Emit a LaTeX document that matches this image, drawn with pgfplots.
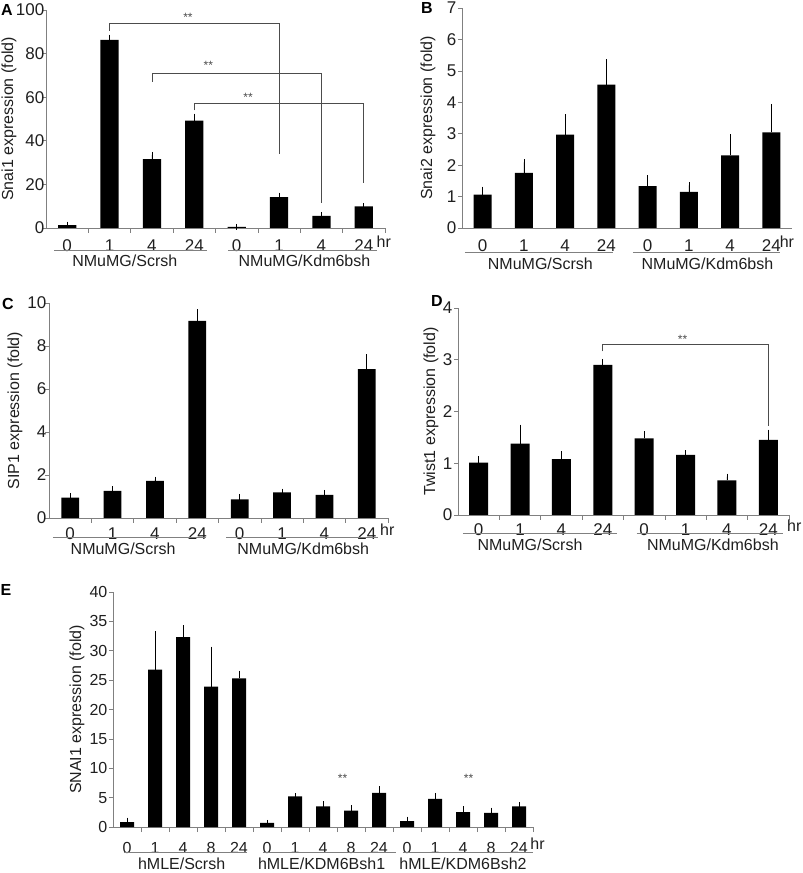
\documentclass[border=0pt]{standalone}
\usepackage{fontspec}
\setmainfont{Liberation Sans}
\usepackage{pgfplots}
\pgfplotsset{compat=1.18}
\usepackage{pgfplotstable}

\definecolor{axisgray}{gray}{0.5}
\definecolor{txt}{gray}{0.12}
\definecolor{brk}{gray}{0.3}

\pgfplotstableread{
x y e
0 1.3 0.2
1 86.3 1.0
2 31.6 1.9
3 49.3 1.8
4 0.5 0.0
5 14.2 0.6
6 5.6 0.4
7 9.9 0.0
}\dataA

\pgfplotstableread{
x y e
0 1.06 0.16
1 1.75 0.34
2 2.97 0.56
3 4.56 0.72
4 1.33 0.26
5 1.15 0.21
6 2.31 0.57
7 3.04 0.81
}\dataB

\pgfplotstableread{
x y e
0 0.95 0.08
1 1.26 0.07
2 1.73 0.05
3 9.17 0.39
4 0.87 0.11
5 1.19 0.04
6 1.08 0.09
7 6.93 0.54
}\dataC

\pgfplotstableread{
x y e
0 1.01 0.07
1 1.38 0.31
2 1.08 0.09
3 2.90 0.06
4 1.48 0.08
5 1.16 0.03
6 0.67 0.07
7 1.45 0.14
}\dataD

\pgfplotstableread{
x y e
0 0.85 0.25
1 26.8 6.0
2 32.3 1.5
3 23.9 6.3
4 25.3 0.8
5 0.7 0.0
6 5.2 0.0
7 3.5 0.4
8 2.8 0.4
9 5.8 0.6
10 1.0 0.25
11 4.8 0.5
12 2.55 0.5
13 2.4 0.4
14 3.5 0.2
}\dataE

\tikzset{
  gline/.style={axisgray, line width=0.8pt},
  glab/.style={anchor=base, text=txt, font=\fontsize{16}{19}\selectfont, inner sep=0pt},
  bracket/.style={brk, line width=0.7pt},
  stars/.style={text=brk, font=\fontsize{12}{12}\selectfont, inner sep=0pt},
}

\pgfplotsset{
  panel/.style={
    scale only axis, anchor=south west, clip=false,
    axis x line*=bottom, axis y line*=left,
    axis line style={axisgray, line width=0.7pt},
    xmin=-0.5, ymin=0,
    tick align=outside,
    major tick length=4pt, minor tick length=5pt,
    major x tick style={draw=none},
    minor x tick style={axisgray, line width=0.6pt},
    y tick style={axisgray, line width=0.6pt},
    tick label style={font=\fontsize{17}{20}\selectfont, text=txt},
    xticklabel style={anchor=base},
    yticklabel style={inner sep=1.5pt},
    /pgf/number format/assume math mode=true,
    every axis y label/.style={font=\fontsize{16}{19}\selectfont, text=txt, rotate=90, anchor=center},
  },
  bars/.style={ybar, bar shift=0pt, fill=black, draw=none,
    error bars/y dir=plus, error bars/y explicit,
    error bars/error bar style={draw=black, line width=0.7pt},
    error bars/error mark options={draw=black, line width=0.7pt, mark size=3pt}},
}

\begin{document}
\begin{tikzpicture}
\useasboundingbox (0,0) rectangle (803pt,873pt);
\node[font=\bfseries\fontsize{16}{19}\selectfont] at (7pt,863pt) {A};
\node[font=\bfseries\fontsize{16}{19}\selectfont] at (427pt,865pt) {B};
\node[font=\bfseries\fontsize{16}{19}\selectfont] at (8pt,569pt) {C};
\node[font=\bfseries\fontsize{16}{19}\selectfont] at (437pt,572pt) {D};
\node[font=\bfseries\fontsize{16}{19}\selectfont] at (6pt,283pt) {E};

% ---------- A ----------
\begin{axis}[panel, at={(46pt,645pt)}, width=339pt, height=218pt,
  xmax=7.5, ymax=100, ytick={0,20,...,100},
  xtick={0,...,7}, xticklabels={0,1,4,24,0,1,4,24},
  minor xtick={0.5,1.5,...,7.5},
  xticklabel style={yshift=-20pt},
  yticklabel style={xshift=4pt},
  ylabel={Snai1 expression (fold)},
  ylabel style={at={([xshift=-37pt]axis description cs:0,0.5)}}]
\addplot[bar width=0.43, bars] table[x=x,y=y,y error=e]{\dataA};
\draw[bracket] (axis cs:1,90.5) -- (axis cs:1,93.9) -- (axis cs:5,93.9) -- (axis cs:5,34);
\draw[bracket] (axis cs:2,67) -- (axis cs:2,71) -- (axis cs:6,71) -- (axis cs:6,11.5);
\draw[bracket] (axis cs:3,54) -- (axis cs:3,57) -- (axis cs:7,57) -- (axis cs:7,20.6);
\node[stars] at (axis cs:2.85,96.5) {**};
\node[stars] at (axis cs:3.33,74.5) {**};
\node[stars] at (axis cs:4.27,60) {**};
\draw[gline] ([yshift=-22pt]axis cs:-0.3,0) -- ([yshift=-22pt]axis cs:3.3,0);
\draw[gline] ([yshift=-22pt]axis cs:3.8,0) -- ([yshift=-22pt]axis cs:7.3,0);
\node[glab] at ([yshift=-39pt]axis cs:1.36,0) {NMuMG/Scrsh};
\node[glab] at ([yshift=-39pt]axis cs:5.6,0) {NMuMG/Kdm6bsh};
\node[glab, anchor=base west] at ([yshift=-20pt]axis cs:7.3,0) {hr};
\end{axis}

% ---------- B ----------
\begin{axis}[panel, at={(462pt,645pt)}, width=330pt, height=220pt,
  xmax=7.5, ymax=7, ytick={0,1,...,7},
  xtick={0,...,7}, xticklabels={0,1,4,24,0,1,4,24},
  xticklabel style={yshift=-20pt},
  ylabel={Snai2 expression (fold)},
  ylabel style={at={([xshift=-34pt]axis description cs:0,0.5)}}]
\addplot[bar width=0.44, bars] table[x=x,y=y,y error=e]{\dataB};
\draw[gline] ([yshift=-24pt]axis cs:-0.43,0) -- ([yshift=-24pt]axis cs:3.16,0);
\draw[gline] ([yshift=-24pt]axis cs:3.64,0) -- ([yshift=-24pt]axis cs:7.2,0);
\node[glab] at ([yshift=-42pt]axis cs:1.4,0) {NMuMG/Scrsh};
\node[glab] at ([yshift=-42pt]axis cs:5.45,0) {NMuMG/Kdm6bsh};
\node[glab, anchor=base west] at ([yshift=-20pt]axis cs:7.2,0) {hr};
\end{axis}

% ---------- C ----------
\begin{axis}[panel, at={(49pt,355pt)}, width=339pt, height=215pt,
  xmax=7.5, ymax=10, ytick={0,2,...,10},
  xtick={0,...,7}, xticklabels={0,1,4,24,0,1,4,24},
  minor xtick={0.5,1.5,...,7.5},
  xticklabel style={yshift=-17.5pt},
  yticklabel style={xshift=3pt},
  ylabel={SIP1 expression (fold)},
  ylabel style={at={([xshift=-34pt]axis description cs:0,0.5)}}]
\addplot[bar width=0.42, bars] table[x=x,y=y,y error=e]{\dataC};
\draw[gline] ([yshift=-19.5pt]axis cs:-0.41,0) -- ([yshift=-19.5pt]axis cs:3.2,0);
\draw[gline] ([yshift=-19.5pt]axis cs:3.68,0) -- ([yshift=-19.5pt]axis cs:7.26,0);
\node[glab] at ([yshift=-37pt]axis cs:1.25,0) {NMuMG/Scrsh};
\node[glab] at ([yshift=-37pt]axis cs:5.5,0) {NMuMG/Kdm6bsh};
\node[glab, anchor=base west] at ([yshift=-17.5pt]axis cs:7.31,0) {hr};
\end{axis}

% ---------- D ----------
\begin{axis}[panel, at={(458pt,358pt)}, width=331pt, height=207pt,
  xmax=7.5, ymax=4, ytick={0,1,...,4},
  xtick={0,...,7}, xticklabels={0,1,4,24,0,1,4,24},
  minor xtick={0.5,1.5,...,7.5},
  xticklabel style={yshift=-17pt},
  ylabel={Twist1 expression (fold)},
  ylabel style={at={([xshift=-27pt]axis description cs:0,0.5)}}]
\addplot[bar width=0.46, bars] table[x=x,y=y,y error=e]{\dataD};
\draw[bracket] (axis cs:3,3.16) -- (axis cs:3,3.29) -- (axis cs:7,3.29) -- (axis cs:7,1.72);
\node[stars] at (axis cs:4.93,3.39) {**};
\draw[gline] ([yshift=-18.5pt]axis cs:-0.38,0) -- ([yshift=-18.5pt]axis cs:3.34,0);
\draw[gline] ([yshift=-18.5pt]axis cs:3.82,0) -- ([yshift=-18.5pt]axis cs:7.35,0);
\node[glab] at ([yshift=-36pt]axis cs:1.24,0) {NMuMG/Scrsh};
\node[glab] at ([yshift=-36pt]axis cs:5.66,0) {NMuMG/Kdm6bsh};
\node[glab, anchor=base west] at ([yshift=-17pt]axis cs:7.45,0) {hr};
\end{axis}

% ---------- E ----------
\begin{axis}[panel, at={(113pt,46pt)}, width=420pt, height=235pt,
  xmax=14.5, ymax=40, ytick={0,5,...,40},
  tick label style={font=\fontsize{16}{19}\selectfont},
  xtick={0,...,14}, xticklabels={0,1,4,8,24,0,1,4,8,24,0,1,4,8,24},
  minor xtick={0.5,1.5,...,14.5},
  xticklabel style={yshift=-22pt},
  ylabel={SNAI1 expression (fold)},
  ylabel style={at={([xshift=-36pt]axis description cs:0,0.5)}}]
\addplot[bar width=0.5, bars] table[x=x,y=y,y error=e]{\dataE};
\node[stars] at (axis cs:7.7,8.2) {**};
\node[stars] at (axis cs:12.2,8.2) {**};
\draw[gline] ([yshift=-25pt]axis cs:-0.1,0) -- ([yshift=-25pt]axis cs:4.3,0);
\draw[gline] ([yshift=-25pt]axis cs:4.85,0) -- ([yshift=-25pt]axis cs:9.6,0);
\draw[gline] ([yshift=-25pt]axis cs:9.85,0) -- ([yshift=-25pt]axis cs:14.5,0);
\node[glab] at ([yshift=-42pt]axis cs:1.95,0) {hMLE/Scrsh};
\node[glab] at ([yshift=-42pt]axis cs:6.95,0) {hMLE/KDM6Bsh1};
\node[glab] at ([yshift=-42pt]axis cs:12,0) {hMLE/KDM6Bsh2};
\node[glab, anchor=base west] at ([yshift=-22pt]axis cs:14.4,0) {hr};
\end{axis}
\end{tikzpicture}
\end{document}
